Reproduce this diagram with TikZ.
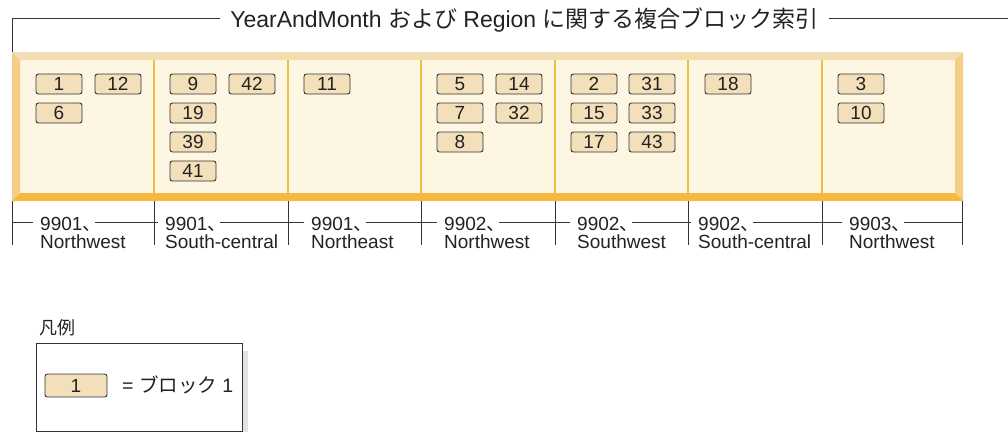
\documentclass[tikz,border=0pt]{standalone}
\usepackage{fontspec}
\setmainfont{Liberation Sans}
\newfontfamily\jp{Noto Sans CJK JP}
\usetikzlibrary{calc}
\definecolor{linec}{HTML}{333333}
\definecolor{txtc}{HTML}{222222}
\definecolor{innerc}{HTML}{FDF6E3}
\definecolor{topc}{HTML}{F3DDB3}
\definecolor{sidec}{HTML}{F4CD87}
\definecolor{botc}{HTML}{F5B942}
\definecolor{divc}{HTML}{F5BA45}
\definecolor{blkc}{HTML}{F3DFBA}
\definecolor{shadc}{HTML}{E2E2E2}
\begin{document}
\begin{tikzpicture}[x=1pt,y=-1pt,
  blk/.style={draw=linec, fill=blkc, rounded corners=2.5pt, minimum width=46pt,
    minimum height=20pt, inner sep=0pt, line width=0.9pt, text=txtc,
    font=\fontsize{19}{19}\selectfont},
  yr/.style={anchor=base west, inner xsep=7pt, inner ysep=0pt, text=txtc,
    font=\fontsize{19}{19}\selectfont},
  rg/.style={anchor=base west, inner sep=0pt, text=txtc,
    font=\fontsize{19}{19}\selectfont},
  ln/.style={draw=linec, line width=0.9pt},
  dv/.style={draw=divc, line width=1.6pt}]
\useasboundingbox (0,0) rectangle (1008,432);
% frame
\fill[innerc] (20,60) rectangle (955,193);
\fill[topc] (12,52) -- (963,52) -- (955,60) -- (20,60) -- cycle;
\fill[sidec] (12,52) -- (20,60) -- (20,193) -- (12,201) -- cycle;
\fill[sidec] (963,52) -- (963,201) -- (955,193) -- (955,60) -- cycle;
\fill[botc] (12,201) -- (20,193) -- (955,193) -- (963,201) -- cycle;
\foreach \x in {154,288,421,555,688,822} \draw[dv] (\x,60) -- (\x,193);
% title
\coordinate (tl) at (12,52);
\coordinate (tline) at (12,18);
\coordinate (tr) at (1008,18);
\node[anchor=base, inner xsep=10pt, text=txtc, font=\fontsize{23}{23}\selectfont]
  (title) at (524.5,27) {YearAndMonth {\jp および} Region {\jp に関する複合ブロック索引}};
\draw[ln] (tl) -- (tline) -- (tline -| title.west);
\draw[ln] (title.east |- tline) -- (tr);
% blocks
\node[blk] (n1)  at (59,84)  {1};
\node[blk] (n12) at (118,84) {12};
\node[blk] (n6)  at (59,113) {6};
\node[blk] (n9)  at (193,84) {9};
\node[blk] (n42) at (252,84) {42};
\node[blk] (n19) at (193,113) {19};
\node[blk] (n39) at (193,142) {39};
\node[blk] (n41) at (193,171) {41};
\node[blk] (n11) at (327,84) {11};
\node[blk] (n5)  at (460,84) {5};
\node[blk] (n14) at (519,84) {14};
\node[blk] (n7)  at (460,113) {7};
\node[blk] (n32) at (519,113) {32};
\node[blk] (n8)  at (460,142) {8};
\node[blk] (n2)  at (594,84) {2};
\node[blk] (n31) at (652,84) {31};
\node[blk] (n15) at (594,113) {15};
\node[blk] (n33) at (652,113) {33};
\node[blk] (n17) at (594,142) {17};
\node[blk] (n43) at (652,142) {43};
\node[blk] (n18) at (728,84) {18};
\node[blk] (n3)  at (861,84) {3};
\node[blk] (n10) at (861,113) {10};
% axis ticks
\foreach \i/\x in {0/12,1/154,2/288,3/421,4/555,5/688,6/822,7/962} {
  \coordinate (k\i) at (\x,201);
  \coordinate (m\i) at (\x,222);
  \draw[ln] (k\i) -- ++(0,44);
}
% labels
\foreach \i/\j/\x/\y/\r in {1/0/40/9901/Northwest, 2/1/165/9901/South-central,
   3/2/311/9901/Northeast, 4/3/444/9902/Northwest, 5/4/577/9902/Southwest,
   6/5/698/9902/South-central, 7/6/849/9903/Northwest} {
  \node[yr] (y\i) at (\x-7,230) {\y{\jp\makebox[0.3em][l]{、}}};
  \node[rg] (r\i) at (\x,248) {\r};
}
\foreach \i/\j in {1/0,2/1,3/2,4/3,5/4,6/5,7/6} {
  \draw[ln] (m\j) -- (m\j -| y\i.west);
  \draw[ln] (y\i.east |- m\j) -- (m\i);
}
% legend
\node[anchor=base west, inner sep=0pt, text=txtc, font=\jp\fontsize{18}{18}\selectfont]
  (lgt) at (39,334) {凡例};
\fill[shadc] (242,351) rectangle (248,432);
\node[draw=linec, line width=0.9pt, fill=white, minimum width=206pt, minimum height=88pt,
  inner sep=0pt] (lg) at (139,387) {};
\node[blk, minimum width=62pt, minimum height=23pt] (lb) at (76,385.5) {1};
\node[anchor=west, inner sep=0pt, text=txtc, font=\fontsize{19.5}{19.5}\selectfont]
  (lt) at (122,385) {= {\jp ブロック} 1};
\end{tikzpicture}
\end{document}
